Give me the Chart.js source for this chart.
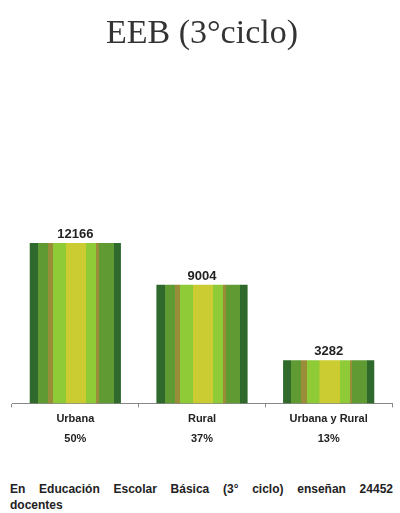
<!DOCTYPE html>
<html>
<head>
<meta charset="utf-8">
<script src="https://cdn.jsdelivr.net/npm/chart.js@4.4.0/dist/chart.umd.min.js"></script>
<style>
  html, body { margin: 0; padding: 0; background: #fff; }
  #wrap { position: relative; width: 400px; height: 513px; }
  #nota {
    position: absolute; left: 10px; top: 481px; width: 383px;
    font: bold 12px "Liberation Sans", Arial, sans-serif; color: #222;
    line-height: 16px;
  }
  #nota .linea1 { text-align: justify; text-align-last: justify; }
</style>
</head>
<body>
<div id="wrap">
  <canvas id="grafico" width="400" height="451"></canvas>
  <div id="nota"><div class="linea1">En Educación Escolar Básica (3° ciclo) enseñan 24452</div><div>docentes</div></div>
</div>
<script>
// Datos del gráfico
const categorias = ['Urbana', 'Rural', 'Urbana y Rural'];
const porcentajes = ['50%', '37%', '13%'];
const docentes = [12166, 9004, 3282];

// Franjas verticales de cada barra (posición relativa, color)
const franjas = [
    [0.00, '#2f6a2c'], [0.09, '#5f9a33'], [0.20, '#9a8d3a'], [0.26, '#8fcb36'],
    [0.40, '#cbcb32'], [0.62, '#8fcb36'], [0.73, '#9a8d3a'], [0.76, '#5f9a33'],
    [0.92, '#2f6a2c']
];
const anchoBarra = 0.72;

// Degradado de franjas calculado con la escala x para cada barra
function colorBarra(context) {
    const chart = context.chart;
    const escala = chart.scales.x;
    if (!escala || context.type !== 'data') return '#8fcb36';
    const ancho = escala.width / categorias.length * anchoBarra;
    const centro = escala.getPixelForValue(context.dataIndex);
    const x0 = centro - ancho / 2;
    if (!isFinite(x0) || !isFinite(ancho) || ancho <= 0) return '#8fcb36';
    const g = chart.ctx.createLinearGradient(x0, 0, x0 + ancho, 0);
    franjas.forEach((f, i) => {
        const fin = i < franjas.length - 1 ? franjas[i + 1][0] : 1;
        g.addColorStop(f[0], f[1]);
        g.addColorStop(Math.max(f[0], fin - 0.001), f[1]);
    });
    return g;
}

// Etiquetas con el valor encima de cada barra
const pluginValores = {
    id: 'valores',
    afterDatasetsDraw(chart) {
        const ctx = chart.ctx;
        ctx.save();
        ctx.font = 'bold 13px "Liberation Sans", Arial, sans-serif';
        ctx.fillStyle = '#222';
        ctx.textAlign = 'center';
        ctx.textBaseline = 'bottom';
        chart.getDatasetMeta(0).data.forEach((bar, i) => {
            ctx.fillText(docentes[i], bar.x, bar.y - 2);
        });
        ctx.restore();
    }
};

new Chart(document.getElementById('grafico'), {
    type: 'bar',
    data: {
        labels: categorias.map((c, i) => [c, porcentajes[i]]),
        datasets: [{
            data: docentes,
            backgroundColor: colorBarra,
            barPercentage: anchoBarra,
            categoryPercentage: 1
        }]
    },
    options: {
        responsive: false,
        animation: false,
        layout: { padding: { left: 12, right: 8, top: 0, bottom: 0 } },
        scales: {
            x: {
                grid: { drawOnChartArea: false, drawTicks: true, tickLength: 4, color: '#888', offset: true },
                border: { color: '#888', width: 1 },
                ticks: {
                    color: '#222',
                    font: { family: '"Liberation Sans", Arial, sans-serif', size: 11, weight: 'bold', lineHeight: 1.8 },
                    maxRotation: 0,
                    padding: 2
                }
            },
            y: { display: false, min: 0, max: 25700 }
        },
        plugins: {
            legend: { display: false },
            tooltip: { enabled: false },
            title: {
                display: true,
                text: 'EEB (3°ciclo)',
                color: '#333',
                font: { family: '"Liberation Serif", "DejaVu Serif", serif', size: 34, weight: 'normal' },
                padding: { top: 14, bottom: 10 }
            }
        }
    },
    plugins: [pluginValores]
});
</script>
</body>
</html>
